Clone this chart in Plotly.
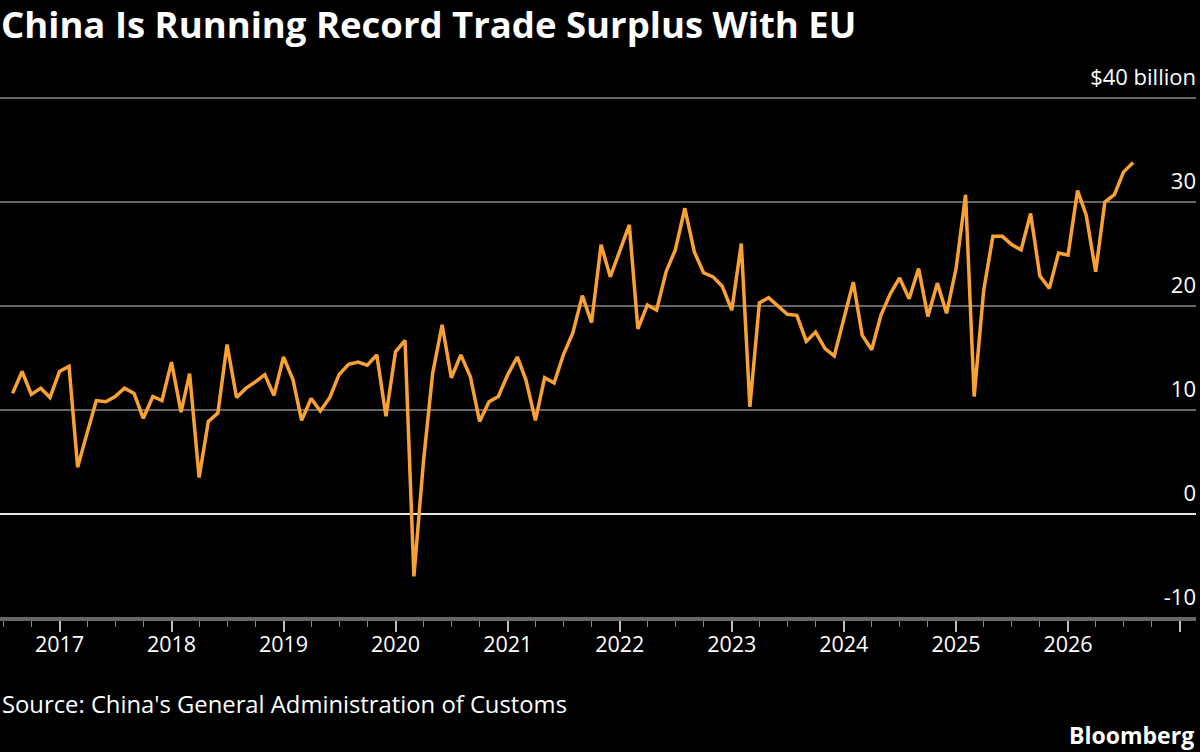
import plotly.graph_objects as go
import pandas as pd

start_month = "2016-08-01"
surplus_bn = [
    11.6, 13.7, 11.5, 12.1, 11.2,
    13.7, 14.2, 4.5, 7.8, 10.9, 10.8, 11.3, 12.1, 11.6, 9.2, 11.3, 10.9,
    14.6, 9.8, 13.5, 3.5, 8.9, 9.7, 16.3, 11.2, 12.1, 12.7, 13.4, 11.4,
    15.1, 12.9, 9.0, 11.1, 9.9, 11.2, 13.4, 14.4, 14.6, 14.3, 15.3, 9.4,
    15.6, 16.7, -6.0, 5.0, 13.5, 18.2, 13.1, 15.3, 13.2, 8.9, 10.8, 11.3,
    13.4, 15.1, 12.9, 9.0, 13.1, 12.6, 15.3, 17.4, 21.0, 18.4, 25.9, 22.8,
    25.2, 27.8, 17.8, 20.1, 19.6, 23.3, 25.4, 29.4, 25.2, 23.2, 22.8, 21.9,
    19.6, 26.0, 10.3, 20.3, 20.8, 20.0, 19.2, 19.1, 16.6, 17.5, 15.9, 15.2,
    18.7, 22.3, 17.2, 15.8, 19.1, 21.2, 22.7, 20.7, 23.6, 19.0, 22.2, 19.3,
    23.6, 30.7, 11.3, 21.5, 26.7, 26.7, 25.9, 25.4, 28.9, 22.9, 21.7, 25.1,
    24.9, 31.1, 28.75, 23.3, 30.0, 30.7, 32.9, 33.8,
]
months = pd.date_range(start_month, periods=len(surplus_bn), freq="MS")

y_tick_vals = [-10, 0, 10, 20, 30, 40]
y_tick_text = ["-10", "0", "10", "20", "30", "$40 billion"]

title_text = "China Is Running Record Trade Surplus With EU"
source_text = "Source: China's General Administration of Customs"
brand_text = "Bloomberg"

FONT = "Open Sans"

fig = go.Figure()
fig.add_trace(go.Scatter(
    x=months, y=surplus_bn, mode="lines",
    line=dict(color="#F9A233", width=3.5),
    hoverinfo="skip", showlegend=False,
))

fig.update_layout(
    width=1200, height=752,
    paper_bgcolor="#000000", plot_bgcolor="#000000",
    margin=dict(l=0, r=4, t=97, b=133),
    font=dict(family=FONT, color="#FFFFFF", size=21),
    showlegend=False,
    xaxis=dict(
        type="date",
        range=["2016-06-21", "2027-02-22"],
        dtick="M12", tick0="2017-01-01", tickformat="%Y",
        ticks="outside", ticklen=11, tickwidth=1.5, tickcolor="#BBBBBB",
        ticklabelstandoff=-6,
        showgrid=False, zeroline=False,
        showline=True, linecolor="#666666", linewidth=1.5,
        tickfont=dict(family=FONT, size=21.5, color="#FFFFFF"),
        minor=dict(dtick="M3", tick0="2017-01-01", ticks="outside", ticklen=6,
                   tickwidth=1, tickcolor="#888888", showgrid=False),
        fixedrange=True,
    ),
    yaxis=dict(
        range=[-10.1, 40.1], side="right",
        tickvals=y_tick_vals, ticktext=y_tick_text,
        ticklabelposition="inside top",
        ticklabeloverflow="allow",
        ticklabelshift=-5, ticklabelstandoff=-3,
        ticks="", showgrid=True, gridcolor="#666666", gridwidth=1.5,
        zeroline=True, zerolinecolor="#E6E6E6", zerolinewidth=2,
        showline=False,
        tickfont=dict(family=FONT, size=22, color="#FFFFFF"),
        fixedrange=True,
    ),
    annotations=[
        dict(text="<b>" + title_text + "</b>", xref="paper", yref="paper",
             x=0, y=1, xanchor="left", yanchor="middle", yshift=73,
             borderpad=0,
             showarrow=False, font=dict(family=FONT, size=36.5, color="#FFFFFF")),
        dict(text=source_text, xref="paper", yref="paper",
             x=0, y=0, xanchor="left", yanchor="middle", yshift=-85,
             showarrow=False, font=dict(family=FONT, size=23.8, color="#FFFFFF")),
        dict(text="<b>" + brand_text + "</b>", xref="paper", yref="paper",
             x=1, y=0, xanchor="right", yanchor="middle", yshift=-116,
             showarrow=False, font=dict(family=FONT, size=23, color="#FFFFFF")),
    ],
)

fig.write_html("out.html", config={"displayModeBar": False},
               post_script="document.body.style.margin='0';document.body.style.overflow='hidden';")
